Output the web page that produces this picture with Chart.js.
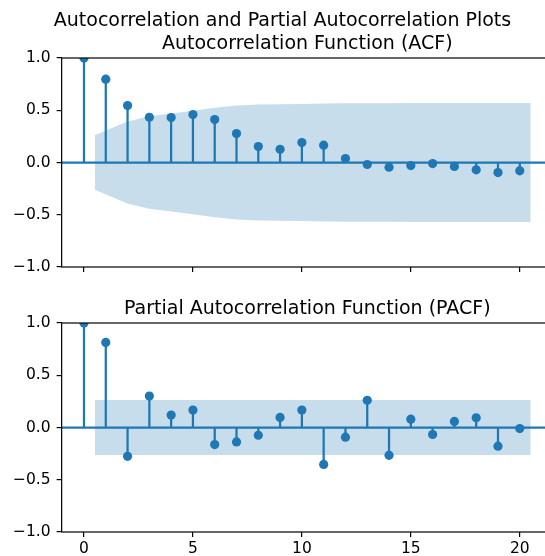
<!DOCTYPE html>
<html lang="en">
<head>
<meta charset="UTF-8">
<title>Autocorrelation and Partial Autocorrelation Plots</title>
<script src="https://cdn.jsdelivr.net/npm/chart.js"></script>
<style>
    body { margin: 0; overflow: hidden; background: #fff; font-family: "DejaVu Sans", sans-serif; }
    #fig { position: relative; width: 545px; height: 556px; overflow: hidden; }
    canvas { position: absolute; left: 0; }
    .title { position: absolute; font-size: 19px; line-height: 22px; white-space: nowrap; text-align: center; color: #000; }
</style>
</head>
<body>
<div id="fig">
    <canvas id="acfChart" width="570" height="290" style="top:0"></canvas>
    <canvas id="pacfChart" width="570" height="266" style="top:290px"></canvas>
    <div class="title" style="left:0;width:565px;top:8px">Autocorrelation and Partial Autocorrelation Plots</div>
    <div class="title" style="left:61.65px;width:491.35px;top:30.7px">Autocorrelation Function (ACF)</div>
    <div class="title" style="left:61.65px;width:491.35px;top:295.7px">Partial Autocorrelation Function (PACF)</div>
</div>

<script>
    // lags and values
    const lags = [0, 1, 2, 3, 4, 5, 6, 7, 8, 9, 10, 11, 12, 13, 14, 15, 16, 17, 18, 19, 20];
    const acfValues = [1.0, 0.797, 0.545, 0.433, 0.430, 0.459, 0.411, 0.277, 0.153, 0.127, 0.191,
        0.166, 0.038, -0.019, -0.045, -0.029, -0.010, -0.038, -0.070, -0.096, -0.080];
    const pacfValues = [1.0, 0.814, -0.276, 0.301, 0.119, 0.167, -0.163, -0.138, -0.074, 0.096, 0.167,
        -0.353, -0.093, 0.260, -0.266, 0.080, -0.067, 0.058, 0.093, -0.179, -0.010];

    // confidence bands (lags 1..20, first and last stretched by half a lag)
    const bandLags = [0.5, 2, 3, 4, 5, 6, 7, 8, 9, 10, 11, 12, 13, 14, 15, 16, 17, 18, 19, 20.5];
    const acfBand = [0.261, 0.393, 0.442, 0.470, 0.496, 0.524, 0.546, 0.555, 0.558, 0.560,
        0.564, 0.568, 0.568, 0.568, 0.569, 0.569, 0.569, 0.569, 0.570, 0.570];
    const pacfBand = [0.262, 0.262, 0.262, 0.262, 0.262, 0.262, 0.262, 0.262, 0.262, 0.262,
        0.262, 0.262, 0.262, 0.262, 0.262, 0.262, 0.262, 0.262, 0.262, 0.262];

    const xTicks = [0, 5, 10, 15, 20];
    const yTicks = [-1.0, -0.5, 0.0, 0.5, 1.0];

    const blue = '#1f77b4';
    const bandColor = 'rgba(31, 119, 180, 0.25)';

    Chart.defaults.font.family = '"DejaVu Sans", sans-serif';
    Chart.defaults.font.size = 15.5;
    Chart.defaults.color = '#000';

    // zero line under the stems, and the four spines on top
    const axesPlugin = {
        id: 'axesBox',
        beforeDatasetsDraw(chart) {
            const { ctx, chartArea: a, scales } = chart;
            const y0 = scales.y.getPixelForValue(0);
            ctx.save();
            ctx.strokeStyle = blue;
            ctx.lineWidth = 2.25;
            ctx.beginPath();
            ctx.moveTo(a.left, y0);
            ctx.lineTo(a.right, y0);
            ctx.stroke();
            ctx.restore();
        },
        afterDraw(chart) {
            const { ctx, chartArea: a } = chart;
            ctx.save();
            ctx.strokeStyle = '#000';
            ctx.lineWidth = 1.2;
            ctx.strokeRect(a.left, a.top, a.right - a.left, a.bottom - a.top);
            ctx.restore();
        }
    };

    function makeCorrChart(canvasId, values, band, showXLabels, topPad, xAxisHeight) {
        const stems = [];
        lags.forEach((lag, i) => {
            stems.push({ x: lag, y: 0 }, { x: lag, y: values[i] }, { x: lag, y: null });
        });

        return new Chart(document.getElementById(canvasId), {
            type: 'line',
            data: {
                datasets: [{
                    data: bandLags.map((x, i) => ({ x: x, y: band[i] })),
                    fill: '+1',
                    backgroundColor: bandColor,
                    borderWidth: 0,
                    pointRadius: 0,
                    order: 3
                }, {
                    data: bandLags.map((x, i) => ({ x: x, y: -band[i] })),
                    fill: false,
                    borderWidth: 0,
                    pointRadius: 0,
                    order: 3
                }, {
                    data: stems,
                    borderColor: blue,
                    borderWidth: 2.25,
                    pointRadius: 0,
                    spanGaps: false,
                    fill: false,
                    order: 2
                }, {
                    type: 'scatter',
                    data: lags.map((lag, i) => ({ x: lag, y: values[i] })),
                    backgroundColor: blue,
                    borderWidth: 0,
                    pointRadius: 4.6,
                    clip: 0,
                    order: 1
                }]
            },
            options: {
                responsive: false,
                animation: false,
                devicePixelRatio: 1,
                layout: { padding: { top: topPad, right: 17, left: 0, bottom: 0 } },
                plugins: { legend: { display: false }, tooltip: { enabled: false } },
                scales: {
                    x: {
                        type: 'linear',
                        min: -1.025,
                        max: 21.525,
                        border: { display: false },
                        grid: { drawOnChartArea: false, drawTicks: true, tickLength: 5, color: '#000', lineWidth: 1.2 },
                        ticks: { display: showXLabels, padding: 3, maxRotation: 0 },
                        afterBuildTicks: s => { s.ticks = xTicks.map(v => ({ value: v })); },
                        afterFit: s => { s.height = xAxisHeight; }
                    },
                    y: {
                        min: -1,
                        max: 1,
                        border: { display: false },
                        grid: { drawOnChartArea: false, drawTicks: true, tickLength: 5, color: '#000', lineWidth: 1.2 },
                        ticks: {
                            padding: 6,
                            callback: v => (v < 0 ? '\u2212' : '') + Math.abs(v).toFixed(1)
                        },
                        afterBuildTicks: s => { s.ticks = yTicks.map(v => ({ value: v })); },
                        afterFit: s => { s.width = 61.65; }
                    }
                }
            },
            plugins: [axesPlugin]
        });
    }

    makeCorrChart('acfChart', acfValues, acfBand, false, 58, 23);
    makeCorrChart('pacfChart', pacfValues, pacfBand, true, 33, 24);
</script>
</body>
</html>
